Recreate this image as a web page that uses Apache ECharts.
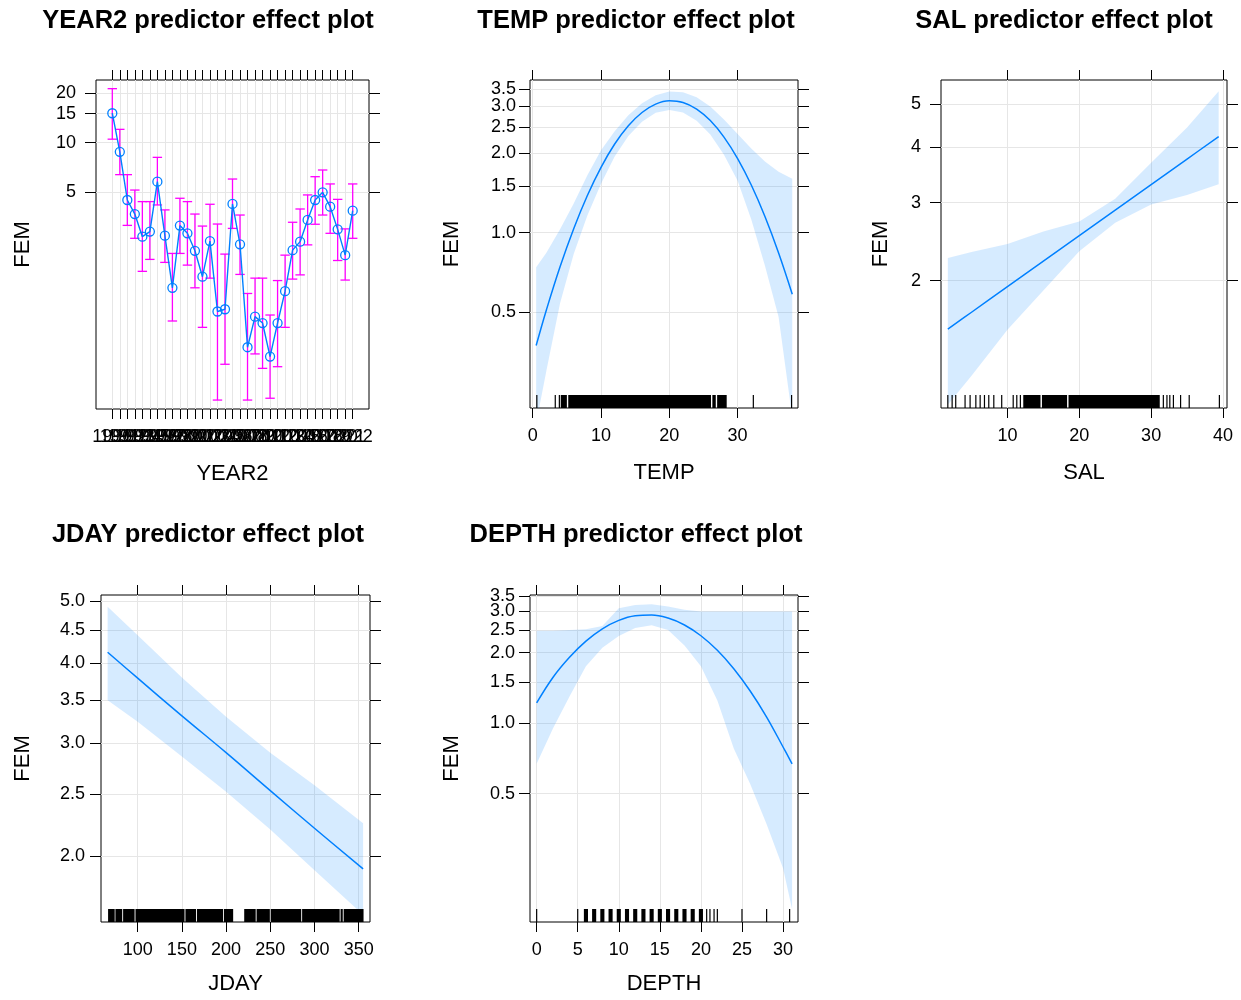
<!DOCTYPE html>
<html><head><meta charset="utf-8">
<script src="https://cdn.jsdelivr.net/npm/echarts@6/dist/echarts.min.js"></script>
<style>html,body{margin:0;padding:0;background:#fff}#chart{width:1241px;height:1000px}</style>
</head><body><div id="chart"></div>
<script>
// ---------------- DATA ----------------
// YEAR2 panel (factor effect with error bars)
const years = [1990,1991,1992,1993,1994,1995,1996,1997,1998,1999,2000,2001,2002,2003,2004,2005,2006,2007,2008,2009,2010,2011,2012,2013,2014,2015,2016,2017,2018,2019,2020,2021,2022];
const yearFit = [15.1,8.8,4.48,3.68,2.68,2.88,5.79,2.72,1.31,3.13,2.81,2.20,1.53,2.52,0.94,0.97,4.24,2.41,0.57,0.875,0.80,0.50,0.80,1.25,2.22,2.50,3.39,4.48,4.99,4.08,2.97,2.07,3.86];
const yearUpper = [21.3,12.05,6.39,5.15,4.38,4.38,8.14,3.90,2.12,4.59,4.38,3.68,3.11,4.22,3.20,2.10,6.01,3.63,1.21,1.50,1.50,0.895,1.45,2.07,3.28,3.95,4.81,6.21,6.82,5.61,4.52,2.99,5.61];
const yearLower = [10.5,6.39,3.14,2.62,1.65,1.95,4.18,1.87,0.823,2.12,1.80,1.31,0.753,1.50,0.272,0.449,3.01,1.58,0.272,0.519,0.424,0.279,0.434,0.753,1.48,1.57,2.39,3.19,3.63,2.81,1.92,1.46,2.62];
const yearFemTicks = [5,10,15,20];

// TEMP panel
const tempX     = [0.5,2,4,6,8,10,12,14,16,18,20,22,24,26,28,30,32,34,36,38];
const tempFit   = [0.374,0.510,0.743,1.035,1.382,1.767,2.164,2.537,2.848,3.062,3.153,3.109,2.935,2.655,2.299,1.906,1.514,1.151,0.838,0.585];
const tempUpper = [0.74,0.84,1.03,1.29,1.65,2.05,2.42,2.78,3.09,3.31,3.42,3.40,3.25,3.00,2.68,2.36,2.08,1.86,1.70,1.60];
const tempLower = [0.19,0.30,0.54,0.83,1.16,1.53,1.94,2.32,2.63,2.84,2.91,2.85,2.65,2.35,1.97,1.57,1.12,0.75,0.48,0.20];
const tempXTicks = [0,10,20,30];
const tempFemTicks = [0.5,1.0,1.5,2.0,2.5,3.0,3.5];
const tempRugTicks = [0.6,3.3,3.9,32.3,37.9];
const tempRugSpans = [[4.1,5.0],[5.2,26.1],[26.3,26.8],[27.0,28.4]];

// SAL panel
const salX     = [1.7,5,10,15,20,25,30,35,39.4];
const salFit   = [1.555,1.697,1.938,2.213,2.527,2.885,3.294,3.761,4.226];
const salUpper = [2.25,2.32,2.42,2.58,2.72,3.06,3.69,4.43,5.35];
const salLower = [1.05,1.22,1.55,1.90,2.33,2.70,2.97,3.12,3.30];
const salXTicks = [10,20,30,40];
const salFemTicks = [2,3,4,5];
const salRugTicks = [1.7,2.3,2.8,4.1,4.8,5.6,6.2,6.8,7.4,8.1,9.2,10.8,11.3,11.8,31.7,32.2,32.6,33.1,34.1,35.3,39.5];
const salRugSpans = [[12.2,14.6],[14.8,18.3],[18.5,31.2]];

// JDAY panel
const jdayX     = [66,100,150,200,250,300,355];
const jdayFit   = [4.16,3.79,3.31,2.90,2.53,2.21,1.91];
const jdayUpper = [4.90,4.42,3.80,3.30,2.90,2.58,2.25];
const jdayLower = [3.50,3.24,2.86,2.52,2.20,1.90,1.62];
const jdayXTicks = [100,150,200,250,300,350];
const jdayFemTicks = [2.0,2.5,3.0,3.5,4.0,4.5,5.0];
const jdayRugTicks = [];
const jdayRugSpans = [[66.5,74],[74.8,82.5],[83.5,96.5],[97.5,153],[154,166],[167,196.5],[197.5,208],[220.5,233.5],[234.5,249.5],[250.5,285],[286,328.5],[329.5,332],[333,355.5]];

// DEPTH panel
const depthX     = [0,2,4,6,8,10,12,14,16,18,20,22,24,26,28,30,31.1];
const depthFit   = [1.22,1.572,1.913,2.242,2.531,2.750,2.877,2.900,2.813,2.628,2.364,2.048,1.708,1.372,1.062,0.791,0.67];
const depthUpper = [2.48,2.48,2.50,2.52,2.60,3.10,3.20,3.22,3.15,3.05,3.00,3.00,3.00,3.00,3.00,3.00,3.00];
const depthLower = [0.67,0.95,1.30,1.75,2.10,2.36,2.55,2.62,2.50,2.15,1.75,1.25,0.78,0.55,0.37,0.24,0.16];
const depthXTicks = [0,5,10,15,20,25,30];
const depthFemTicks = [0.5,1.0,1.5,2.0,2.5,3.0,3.5];
const depthRugTicks = [0,5,20.7,21.1,21.6,22,25,28,30.8];
const depthRugSpans = [[5.75,6.25],[6.75,7.25],[7.75,8.25],[8.75,9.25],[9.75,10.25],[10.75,11.25],[11.75,12.25],[12.75,13.25],[13.75,14.25],[14.75,15.25],[15.75,16.25],[16.75,17.25],[17.75,18.25],[18.75,19.25],[19.75,20.25]];

// ---------------- STYLE / LAYOUT ----------------
const FONT = '"Liberation Sans", Arial, Helvetica, sans-serif';
const BLUE = '#0080ff', MAGENTA = '#ff00ff', GRIDC = '#e6e6e6', BAND = 'rgba(0,128,255,0.16)';

const panels = [
  {title:'YEAR2 predictor effect plot', tx:208, ty:21, rect:[96,80,273,329], xMin:1987.83, xMax:2024.17, yMin:0.24, yMax:24.05,
   xTicks:years, yTicks:yearFemTicks, xFmt:v=>String(v), yFmt:v=>String(v), xName:'YEAR2', yLabM:20, yGap:62, xGap:54, xGroups:6},
  {title:'TEMP predictor effect plot', tx:636, ty:21, rect:[530,80,268,328], xMin:-0.4, xMax:38.84, yMin:0.217, yMax:3.78,
   xTicks:tempXTicks, yTicks:tempFemTicks, xFmt:v=>String(v), yFmt:v=>v.toFixed(1), xName:'TEMP', yLabM:14, yGap:67, xGap:54, xGroups:1,
   x:tempX, fit:tempFit, up:tempUpper, lo:tempLower, rugT:tempRugTicks, rugS:tempRugSpans},
  {title:'SAL predictor effect plot', tx:1064, ty:21, rect:[941,80,286,328], xMin:0.75, xMax:40.56, yMin:1.032, yMax:5.67,
   xTicks:salXTicks, yTicks:salFemTicks, xFmt:v=>String(v), yFmt:v=>String(v), xName:'SAL', yLabM:20, yGap:49, xGap:54, xGroups:1,
   x:salX, fit:salFit, up:salUpper, lo:salLower, rugT:salRugTicks, rugS:salRugSpans},
  {title:'JDAY predictor effect plot', tx:208, ty:535, rect:[101,595,269,327], xMin:58.5, xMax:362.8, yMin:1.578, yMax:5.11,
   xTicks:jdayXTicks, yTicks:jdayFemTicks, xFmt:v=>String(v), yFmt:v=>v.toFixed(1), xName:'JDAY', yLabM:16, yGap:67, xGap:51, xGroups:1,
   x:jdayX, fit:jdayFit, up:jdayUpper, lo:jdayLower, rugT:jdayRugTicks, rugS:jdayRugSpans},
  {title:'DEPTH predictor effect plot', tx:636, ty:535, rect:[530,595,268,327], xMin:-0.81, xMax:31.82, yMin:0.1413, yMax:3.53,
   xTicks:depthXTicks, yTicks:depthFemTicks, xFmt:v=>String(v), yFmt:v=>v.toFixed(1), xName:'DEPTH', yLabM:15, yGap:67, xGap:51, xGroups:1,
   x:depthX, fit:depthFit, up:depthUpper, lo:depthLower, rugT:depthRugTicks, rugS:depthRugSpans}
];

const grid = [], xAxis = [], yAxis = [], series = [], graphic = [];
const tickLabel = {color:'#000', fontSize:18, fontFamily:FONT};
const nameLabel = {color:'#000', fontSize:22, fontFamily:FONT};
const noLine = {show:false, onZero:false};
const tickStyle = {color:'#000', width:1};

panels.forEach((p, i) => {
  const [l, t, w, h] = p.rect;
  grid.push({left:l, top:t, width:w, height:h, show:true, borderColor:'#000', borderWidth:1, backgroundColor:'transparent', containLabel:false});
  const xb = xAxis.length, yl = yAxis.length;
  // bottom x: ticks, grid lines, name
  xAxis.push({gridIndex:i, type:'value', position:'bottom', min:p.xMin, max:p.xMax, axisLine:noLine,
    axisTick:{show:true, inside:false, length:10, customValues:p.xTicks, lineStyle:tickStyle},
    axisLabel:{show:false},
    splitLine:{show:true, lineStyle:{color:GRIDC, width:1}},
    name:p.xName, nameLocation:'middle', nameGap:p.xGap, nameTextStyle:{...nameLabel}});
  // bottom x labels (split into groups so no label gets auto-hidden)
  for (let g = 0; g < p.xGroups; g++) {
    const vals = p.xTicks.filter((v, k) => k % p.xGroups === g);
    xAxis.push({gridIndex:i, type:'value', position:'bottom', min:p.xMin, max:p.xMax, axisLine:noLine,
      axisTick:{show:false},
      axisLabel:{show:true, customValues:vals, formatter:p.xFmt, margin:19, hideOverlap:false, showMinLabel:true, showMaxLabel:true, ...tickLabel},
      splitLine:{show:false}});
  }
  // top x ticks
  xAxis.push({gridIndex:i, type:'value', position:'top', min:p.xMin, max:p.xMax, axisLine:noLine,
    axisTick:{show:true, inside:false, length:10, customValues:p.xTicks, lineStyle:tickStyle},
    axisLabel:{show:false}, splitLine:{show:false}});
  // left y: ticks, grid lines, name
  yAxis.push({gridIndex:i, type:'log', logBase:10, position:'left', min:p.yMin, max:p.yMax, axisLine:noLine,
    axisTick:{show:true, inside:false, length:11, customValues:p.yTicks, lineStyle:tickStyle},
    axisLabel:{show:false},
    splitLine:{show:true, lineStyle:{color:GRIDC, width:1}},
    minorTick:{show:false}, minorSplitLine:{show:false},
    name:'FEM', nameLocation:'middle', nameGap:p.yGap, nameTextStyle:{...nameLabel}});
  // left y labels, alternating across two axes so none is auto-hidden
  for (let g = 0; g < 2; g++) {
    const vals = p.yTicks.filter((v, k) => k % 2 === g);
    yAxis.push({gridIndex:i, type:'log', logBase:10, position:'left', min:p.yMin, max:p.yMax, axisLine:noLine,
      axisTick:{show:false},
      axisLabel:{show:true, customValues:vals, formatter:p.yFmt, margin:p.yLabM, hideOverlap:false, showMinLabel:true, showMaxLabel:true, ...tickLabel},
      splitLine:{show:false}, minorTick:{show:false}});
  }
  // right y ticks
  yAxis.push({gridIndex:i, type:'log', logBase:10, position:'right', min:p.yMin, max:p.yMax, axisLine:noLine,
    axisTick:{show:true, inside:false, length:11, customValues:p.yTicks, lineStyle:tickStyle},
    axisLabel:{show:false}, splitLine:{show:false}, minorTick:{show:false}});

  graphic.push({type:'text', x:p.tx, y:p.ty, style:{text:p.title, fill:'#000', font:'bold 25.5px ' + FONT, textAlign:'center', textVerticalAlign:'middle'}});

  if (p.x) {
    // confidence band
    series.push({type:'custom', xAxisIndex:xb, yAxisIndex:yl, clip:true, silent:true, z:1,
      data:[[p.x[0], p.fit[0]]],
      renderItem:(params, api) => {
        const pts = [];
        p.x.forEach((x, k) => pts.push(api.coord([x, p.up[k]])));
        for (let k = p.x.length - 1; k >= 0; k--) pts.push(api.coord([p.x[k], p.lo[k]]));
        return {type:'polygon', shape:{points:pts}, style:{fill:BAND, stroke:null}};
      }});
    // fitted line
    series.push({type:'line', xAxisIndex:xb, yAxisIndex:yl, z:3, data:p.x.map((x, k) => [x, p.fit[k]]),
      showSymbol:false, smooth:0.4, lineStyle:{color:BLUE, width:1.5}, silent:true});
    // rug
    series.push({type:'custom', xAxisIndex:xb, yAxisIndex:yl, clip:true, silent:true, z:4,
      data:[[p.xMin, p.yMin]],
      renderItem:(params, api) => {
        const cs = params.coordSys;
        const bottom = cs.y + cs.height, rh = 13;
        const children = [];
        p.rugT.forEach(v => {
          const cx = api.coord([v, p.yMin])[0];
          children.push({type:'line', shape:{x1:cx, y1:bottom, x2:cx, y2:bottom - rh}, style:{stroke:'#000', lineWidth:1.2}});
        });
        p.rugS.forEach(s => {
          const a = api.coord([s[0], p.yMin])[0], b = api.coord([s[1], p.yMin])[0];
          children.push({type:'rect', shape:{x:a, y:bottom - rh, width:Math.max(1, b - a), height:rh}, style:{fill:'#000'}});
        });
        return {type:'group', children};
      }});
  } else {
    // YEAR2: error bars + points joined by line
    series.push({type:'custom', xAxisIndex:xb, yAxisIndex:yl, clip:false, silent:true, z:2,
      data:years.map((y, k) => [y, yearLower[k], yearUpper[k]]),
      encode:{x:0, y:[1,2]},
      renderItem:(params, api) => {
        const x = api.value(0);
        const a = api.coord([x, api.value(1)]), b = api.coord([x, api.value(2)]);
        const cw = 4.7, st = {stroke:MAGENTA, lineWidth:1.3};
        return {type:'group', children:[
          {type:'line', shape:{x1:a[0], y1:a[1], x2:b[0], y2:b[1]}, style:st},
          {type:'line', shape:{x1:a[0]-cw, y1:a[1], x2:a[0]+cw, y2:a[1]}, style:st},
          {type:'line', shape:{x1:b[0]-cw, y1:b[1], x2:b[0]+cw, y2:b[1]}, style:st}
        ]};
      }});
    series.push({type:'line', xAxisIndex:xb, yAxisIndex:yl, z:3, data:years.map((y, k) => [y, yearFit[k]]),
      symbol:'circle', symbolSize:9, showSymbol:true,
      lineStyle:{color:BLUE, width:1.4}, itemStyle:{color:'rgba(0,0,0,0)', borderColor:BLUE, borderWidth:1.3}, silent:true});
  }
});

const chart = echarts.init(document.getElementById('chart'), null, {renderer:'canvas'});
chart.setOption({animation:false, backgroundColor:'#fff', textStyle:{fontFamily:FONT}, grid, xAxis, yAxis, series, graphic});
</script></body></html>
